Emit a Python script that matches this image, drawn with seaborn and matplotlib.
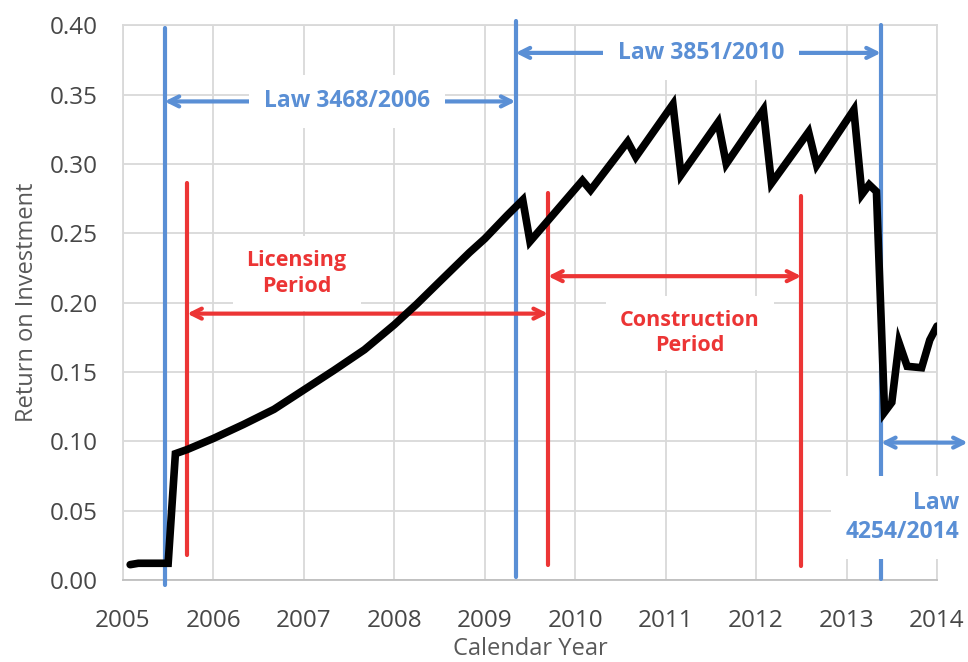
import matplotlib
matplotlib.use("Agg")
import matplotlib.pyplot as plt
import seaborn as sns
import pandas as pd

# === Return on investment (samples) ===
years = [2005.08, 2005.17, 2005.50, 2005.58, 2005.71, 2006.00, 2006.33, 2006.67,
         2007.00, 2007.33, 2007.67, 2008.00, 2008.25, 2008.50, 2008.83, 2009.00,
         2009.25, 2009.42, 2009.50, 2010.08, 2010.17, 2010.58, 2010.67, 2011.08,
         2011.17, 2011.58, 2011.67, 2012.08, 2012.17, 2012.58, 2012.67, 2013.08,
         2013.17, 2013.25, 2013.33, 2013.42, 2013.50, 2013.58, 2013.67, 2013.83,
         2013.92, 2014.00]
roi = [0.011, 0.012, 0.012, 0.091, 0.094, 0.102, 0.112, 0.123,
       0.137, 0.151, 0.166, 0.184, 0.199, 0.215, 0.236, 0.246,
       0.263, 0.274, 0.244, 0.288, 0.281, 0.316, 0.305, 0.343,
       0.292, 0.330, 0.300, 0.339, 0.286, 0.323, 0.299, 0.339,
       0.278, 0.285, 0.280, 0.121, 0.128, 0.171, 0.154, 0.153,
       0.173, 0.183]

# law boundaries (blue) and licensing / construction boundaries (red)
law_x = [2005.46, 2009.34, 2013.38]
law_ymin = [-0.004, 0.002, 0.001]
law_ymax = [0.398, 0.403, 0.400]
phase_x = [2005.71, 2009.70, 2012.50]
phase_ymin = [0.018, 0.011, 0.010]
phase_ymax = [0.286, 0.279, 0.277]

BLUE = "#5A8FD5"
RED = "#EC3535"
GRID = "#D9D9D9"
TXT = "#595959"

sns.set_theme(style="whitegrid")
plt.rcParams['font.family'] = ['Open Sans', 'DejaVu Sans']

fig = plt.figure(figsize=(9.68, 6.62), dpi=100)
ax = fig.add_axes([0.127, 0.124, 0.841, 0.838])

df = pd.DataFrame({"year": years, "roi": roi})
sns.lineplot(data=df, x="year", y="roi", color="black", lw=5.5, ax=ax,
             zorder=4, solid_joinstyle="miter")

for x, y0, y1 in zip(law_x, law_ymin, law_ymax):
    ax.plot([x, x], [y0, y1], color=BLUE, lw=3, zorder=3, clip_on=False)
for x, y0, y1 in zip(phase_x, phase_ymin, phase_ymax):
    ax.plot([x, x], [y0, y1], color=RED, lw=3, zorder=3)

# double-headed arrows
def span(x0, x1, y, color):
    ax.annotate("", xy=(x0, y), xytext=(x1, y), annotation_clip=False,
                arrowprops=dict(arrowstyle="<->,head_length=0.6,head_width=0.3",
                                color=color, lw=3, shrinkA=0, shrinkB=0),
                zorder=3)

span(law_x[0], law_x[1], 0.345, BLUE)
span(law_x[1], law_x[2], 0.380, BLUE)
span(law_x[2], 2014.34, 0.099, BLUE)
span(phase_x[0], phase_x[1], 0.192, RED)
span(phase_x[1], phase_x[2], 0.219, RED)

box = dict(facecolor="white", edgecolor="none", boxstyle="square,pad=0.65")
blue_lab = dict(fontsize=16.5, fontweight="bold", bbox=box, zorder=6, linespacing=1.3, color=BLUE)
red_lab = dict(fontsize=15.5, fontweight="bold", bbox=box, zorder=6, linespacing=1.3, color=RED)
ax.text(2007.48, 0.345, "Law 3468/2006", ha="center", va="center", **blue_lab)
ax.text(2011.39, 0.380, "Law 3851/2010", ha="center", va="center", **blue_lab)
ax.text(2014.25, 0.045, "Law\n4254/2014", ha="right", va="center",
        multialignment="right", clip_on=False, **blue_lab)
ax.text(2006.92, 0.221, "Licensing\nPeriod", ha="center", va="center", **red_lab)
ax.text(2011.27, 0.178, "Construction\nPeriod", ha="center", va="center", **red_lab)

ax.set_xlim(2005, 2014)
ax.set_ylim(0, 0.40)
ax.set_xticks(range(2005, 2015))
ax.set_yticks([i * 0.05 for i in range(9)])
ax.set_yticklabels([f"{i * 0.05:.2f}" for i in range(9)])
ax.grid(True, color=GRID, lw=1.3)
ax.tick_params(axis="both", labelsize=17.5, colors="#474747", length=0)
ax.tick_params(axis="y", pad=18)
ax.tick_params(axis="x", pad=21)
for s in ax.spines.values():
    s.set_color(GRID)
    s.set_linewidth(1.3)
ax.spines["bottom"].set_color("#BFBFBF")
ax.set_xlabel("Calendar Year", fontsize=17, color=TXT, labelpad=3)
ax.set_ylabel("Return on Investment", fontsize=17, color=TXT, labelpad=8)

fig.savefig("out.png", dpi=100)
